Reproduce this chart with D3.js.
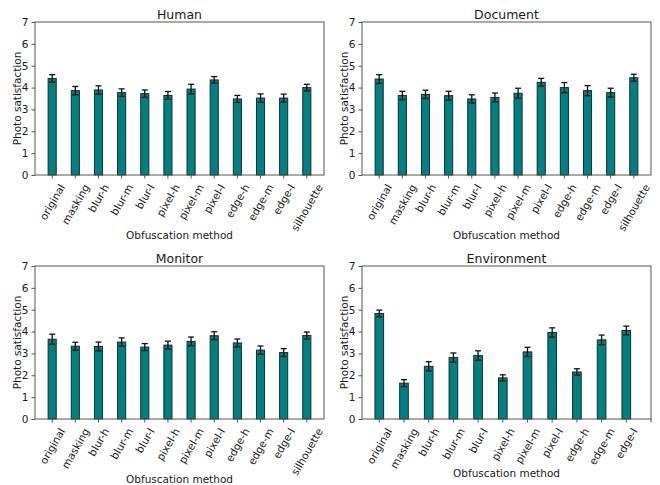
<!DOCTYPE html>
<html>
<head>
<meta charset="utf-8">
<script src="https://cdn.jsdelivr.net/npm/d3@7"></script>
<style>
  body { margin: 0; background: #fff; }
  text { font-family: "DejaVu Sans", sans-serif; fill: #1a1a1a; }
</style>
</head>
<body>
<div id="chart"></div>
<script>
// categories
const methods = ["original", "masking", "blur-h", "blur-m", "blur-l", "pixel-h",
                 "pixel-m", "pixel-l", "edge-h", "edge-m", "edge-l", "silhouette"];
const envMethods = methods.slice(0, 11);
const yTicks = [0, 1, 2, 3, 4, 5, 6, 7];

// mean satisfaction and error half-widths per panel
const humanMean = [4.42, 3.86, 3.89, 3.77, 3.72, 3.64, 3.93, 4.35, 3.48, 3.52, 3.52, 4.00];
const humanErr  = [0.17, 0.19, 0.19, 0.17, 0.17, 0.18, 0.22, 0.15, 0.16, 0.19, 0.18, 0.15];
const docMean   = [4.39, 3.64, 3.69, 3.63, 3.48, 3.55, 3.74, 4.24, 4.00, 3.86, 3.77, 4.45];
const docErr    = [0.20, 0.19, 0.19, 0.20, 0.19, 0.20, 0.23, 0.18, 0.23, 0.23, 0.20, 0.16];
const monMean   = [3.65, 3.33, 3.32, 3.52, 3.29, 3.38, 3.55, 3.81, 3.48, 3.15, 3.04, 3.82];
const monErr    = [0.23, 0.18, 0.20, 0.19, 0.16, 0.18, 0.20, 0.18, 0.18, 0.19, 0.18, 0.16];
const envMean   = [4.83, 1.64, 2.41, 2.81, 2.90, 1.88, 3.07, 3.96, 2.15, 3.62, 4.05];
const envErr    = [0.15, 0.16, 0.21, 0.21, 0.22, 0.14, 0.21, 0.21, 0.15, 0.22, 0.20];

const panels = [
  {title: "Human",       cats: methods,    mean: humanMean, err: humanErr, left: 35,  top: 22,  xdom: [-0.7425, 11.7425], xlab: 64},
  {title: "Document",    cats: methods,    mean: docMean,   err: docErr,   left: 362, top: 22,  xdom: [-0.7425, 11.7425], xlab: 64},
  {title: "Monitor",     cats: methods,    mean: monMean,   err: monErr,   left: 35,  top: 266, xdom: [-0.7425, 11.7425], xlab: 64},
  {title: "Environment", cats: envMethods, mean: envMean,   err: envErr,   left: 362, top: 266, xdom: [-0.7, 11],         xlab: 58}
];

const W = 660, H = 485;
const pw = 289, ph = 153;
const barW = 0.35;

const svg = d3.select("#chart").append("svg")
              .attr("width", W)
              .attr("height", H);

panels.forEach(p => {
  const g = svg.append("g").attr("transform", `translate(${p.left},${p.top})`);

  const x = d3.scaleLinear().domain(p.xdom).range([0, pw]);
  const y = d3.scaleLinear().domain([0, 7]).range([ph, 0]);

  const data = p.cats.map((c, i) => ({cat: c, i: i, v: p.mean[i], e: p.err[i]}));

  // bars
  g.selectAll(".bar")
   .data(data)
   .enter()
   .append("rect")
   .attr("x", d => x(d.i - barW / 2))
   .attr("y", d => y(d.v))
   .attr("width", d => x(d.i + barW / 2) - x(d.i - barW / 2))
   .attr("height", d => y(0) - y(d.v))
   .attr("fill", "#008080")
   .attr("stroke", "#1c2b2b")
   .attr("stroke-width", 1);

  // error bars
  const eb = g.selectAll(".err").data(data).enter().append("g")
              .attr("stroke", "#111")
              .attr("stroke-width", 1.3);
  eb.append("line")
    .attr("x1", d => x(d.i)).attr("x2", d => x(d.i))
    .attr("y1", d => y(d.v - d.e)).attr("y2", d => y(d.v + d.e));
  eb.append("line")
    .attr("x1", d => x(d.i) - 3).attr("x2", d => x(d.i) + 3)
    .attr("y1", d => y(d.v + d.e)).attr("y2", d => y(d.v + d.e));
  eb.append("line")
    .attr("x1", d => x(d.i) - 3).attr("x2", d => x(d.i) + 3)
    .attr("y1", d => y(d.v - d.e)).attr("y2", d => y(d.v - d.e));

  // frame
  g.append("rect")
   .attr("x", 0).attr("y", 0)
   .attr("width", pw).attr("height", ph)
   .attr("fill", "none")
   .attr("stroke", "#555")
   .attr("stroke-width", 1);

  // y axis
  const ya = g.append("g")
              .call(d3.axisLeft(y).tickValues(yTicks).tickSize(3.5).tickPadding(3).tickFormat(d3.format("d")));
  ya.select(".domain").remove();
  ya.selectAll("line").attr("stroke", "#555");
  ya.selectAll("text").style("font-size", "10.5px").attr("fill", "#1a1a1a");

  // x axis ticks (one more than the labels in the last panel)
  const tickIdx = d3.range(12);
  const xa = g.append("g").attr("transform", `translate(0,${ph})`);
  xa.selectAll("line").data(tickIdx).enter().append("line")
    .attr("x1", d => x(d)).attr("x2", d => x(d))
    .attr("y1", 0).attr("y2", 3.5)
    .attr("stroke", "#555");

  // rotated tick labels, bbox centred under tick like matplotlib
  const fs = 10.5;
  const sin = Math.sin(Math.PI / 3), cos = Math.cos(Math.PI / 3);
  xa.selectAll(".lab").data(p.cats).enter().append("text")
    .style("font-size", fs + "px")
    .attr("text-anchor", "middle")
    .attr("dominant-baseline", "central")
    .text(d => d)
    .each(function(d, i) {
      const w = this.getComputedTextLength();
      const bh = w * sin + fs * 1.1 * cos;
      d3.select(this).attr("transform", `translate(${x(i)},${7 + bh / 2}) rotate(-60)`);
    });

  // title
  g.append("text")
   .attr("x", pw / 2).attr("y", -3.5)
   .attr("text-anchor", "middle")
   .style("font-size", "12.5px")
   .text(p.title);

  // y label
  g.append("text")
   .attr("transform", `translate(-14.5,${ph / 2}) rotate(-90)`)
   .attr("text-anchor", "middle")
   .style("font-size", "10.5px")
   .text("Photo satisfaction");

  // x label
  g.append("text")
   .attr("x", pw / 2).attr("y", ph + p.xlab)
   .attr("text-anchor", "middle")
   .style("font-size", "10.5px")
   .text("Obfuscation method");
});
</script>
</body>
</html>
